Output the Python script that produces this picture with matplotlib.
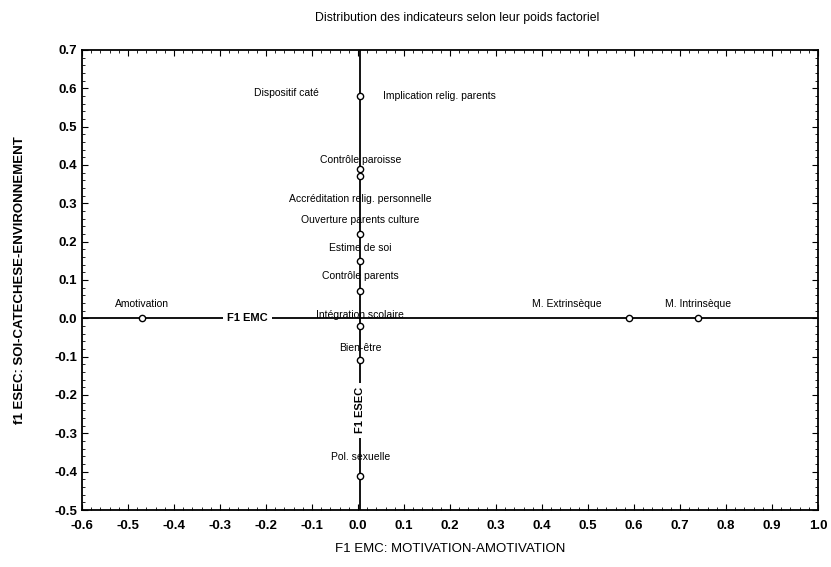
import matplotlib.pyplot as plt
from matplotlib.ticker import MultipleLocator

plt.rcParams["font.family"] = ["Liberation Sans", "DejaVu Sans"]

# indicators and their factor loadings (F1 EMC, F1 ESEC)
labels = ["Amotivation", "M. Extrinsèque", "M. Intrinsèque",
          "Implication relig. parents", "Contrôle paroisse",
          "Accréditation relig. personnelle", "Ouverture parents culture",
          "Estime de soi", "Contrôle parents", "Intégration scolaire",
          "Bien-être", "Pol. sexuelle"]
f1_emc  = [-0.47, 0.59, 0.74, 0.005, 0.005, 0.005, 0.005, 0.005, 0.005, 0.005, 0.005, 0.005]
f1_esec = [0.0, 0.0, 0.0, 0.58, 0.39, 0.37, 0.22, 0.15, 0.07, -0.02, -0.11, -0.41]

fig = plt.figure(figsize=(8.31, 5.67), dpi=100)
ax = fig.add_axes([0.0987, 0.1005, 0.8857, 0.8115])

ax.axhline(0, color="black", lw=1.3, zorder=1)
ax.axvline(0.005, color="black", lw=1.3, zorder=1)
ax.plot(f1_emc, f1_esec, "o", ms=4.5, mfc="white", mec="black", mew=1.0, zorder=3)

# text offsets (points) for each label
offsets = {"Amotivation": (0, 10, "center"),
           "M. Extrinsèque": (-45, 10, "center"),
           "M. Intrinsèque": (0, 10, "center"),
           "Implication relig. parents": (16, 0, "left"),
           "Contrôle paroisse": (0, 6, "center"),
           "Accréditation relig. personnelle": (0, -16, "center"),
           "Ouverture parents culture": (0, 10, "center"),
           "Estime de soi": (0, 9, "center"),
           "Contrôle parents": (0, 11, "center"),
           "Intégration scolaire": (0, 8, "center"),
           "Bien-être": (0, 9, "center"),
           "Pol. sexuelle": (0, 13, "center")}
for lab, x, y in zip(labels, f1_emc, f1_esec):
    dx, dy, ha = offsets[lab]
    ax.annotate(lab, (x, y), xytext=(dx, dy), textcoords="offset points",
                ha=ha, va="center", fontsize=7.5, zorder=4)
ax.annotate("Dispositif caté", (0.005, 0.58), xytext=(-30, 2),
            textcoords="offset points", ha="right", va="center", fontsize=7.5)

ax.text(-0.24, 0.0, "F1 EMC", ha="center", va="center", fontsize=8, fontweight="bold",
        bbox=dict(facecolor="white", edgecolor="none", pad=3), zorder=2)
ax.text(0.005, -0.24, "F1 ESEC", ha="center", va="center", rotation=90, fontsize=8,
        fontweight="bold", bbox=dict(facecolor="white", edgecolor="none", pad=3), zorder=2)

ax.set_xlim(-0.6, 1.0)
ax.set_ylim(-0.5, 0.7)
ax.xaxis.set_major_locator(MultipleLocator(0.1))
ax.yaxis.set_major_locator(MultipleLocator(0.1))
ax.xaxis.set_minor_locator(MultipleLocator(0.02))
ax.yaxis.set_minor_locator(MultipleLocator(0.02))
ax.tick_params(which="both", direction="in", top=True, right=True, labelsize=9.5)
ax.tick_params(which="major", length=4)
ax.tick_params(which="minor", length=2)
ax.tick_params(axis="x", which="major", pad=7)
ax.set_xticklabels([f"{v:.1f}" for v in ax.get_xticks()])
ax.set_yticklabels([f"{v:.1f}" for v in ax.get_yticks()])
for lbl in ax.get_xticklabels() + ax.get_yticklabels():
    lbl.set_fontweight("bold")
for s in ax.spines.values():
    s.set_linewidth(1.3)

ax.set_xlabel("F1 EMC: MOTIVATION-AMOTIVATION", fontsize=9.5, labelpad=8)
ax.set_ylabel("f1 ESEC: SOI-CATECHESE-ENVIRONNEMENT", fontsize=9.5, fontweight="bold", labelpad=20)
fig.text(0.55, 0.968, "Distribution des indicateurs selon leur poids factoriel",
         ha="center", va="center", fontsize=8.8)

fig.savefig("out.png", dpi=100)
